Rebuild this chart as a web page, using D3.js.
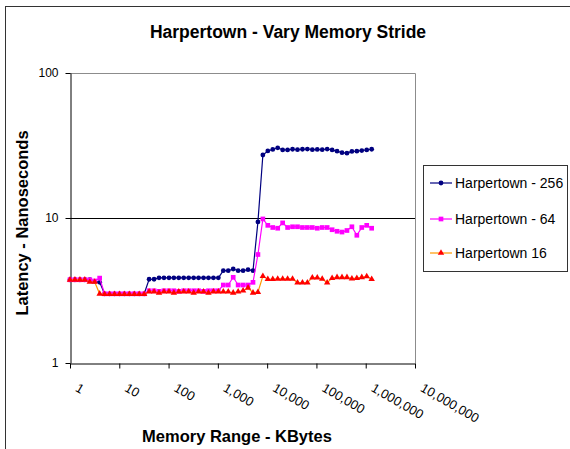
<!DOCTYPE html>
<html>
<head>
<meta charset="utf-8">
<script src="https://cdn.jsdelivr.net/npm/d3@7"></script>
<style>
body { margin: 0; background: #fff; }
text { font-family: "Liberation Sans", Arial, sans-serif; }
</style>
</head>
<body>
<script>
const w = 570;
const h = 449;

// memory range in KBytes (x) and latency in ns for each stride
const sizeKB = [1, 1.26, 1.59, 2, 2.52, 3.17, 4, 5.04, 6.35, 8, 10.1, 12.7, 16, 20.2, 25.4, 32,
  40.3, 50.8, 64, 80.6, 102, 128, 161, 203, 256, 323, 406, 512, 645, 813, 1024, 1290, 1625,
  2048, 2580, 3251, 4096, 5161, 6502, 8192, 10321, 13004, 16384, 20643, 26008, 32768, 41285,
  52016, 65536, 82570, 104032, 131072, 165140, 208064, 262144, 330281, 416128, 524288,
  660561, 832255, 1048576, 1321123];

const lat256 = [3.75, 3.75, 3.75, 3.75, 3.75, 3.65, 3.6,
  3.0, 3.0, 3.0, 3.0, 3.0, 3.0, 3.0, 3.0, 3.0,
  3.78, 3.78, 3.87, 3.87, 3.87, 3.87, 3.87, 3.87, 3.87, 3.87, 3.87, 3.87, 3.87, 3.87, 3.87,
  4.33, 4.33, 4.45, 4.33, 4.33, 4.4, 4.33,
  9.4,
  27.2, 29.0, 29.7, 30.5, 29.5, 29.5, 29.8, 29.6, 29.8, 29.9, 29.6, 29.7, 29.6, 29.9, 29.5,
  28.9, 28.2, 28.0, 28.8, 28.9, 29.2, 29.5, 29.8];

const lat64 = [3.75, 3.75, 3.75, 3.75, 3.75, 3.68, 3.85,
  3.0, 3.0, 3.0, 3.0, 3.0, 3.0, 3.0, 3.0, 3.0,
  3.15, 3.15, 3.12, 3.15, 3.15, 3.15, 3.12, 3.15, 3.15, 3.15, 3.15, 3.12, 3.15, 3.15, 3.15,
  3.45, 3.45, 3.9, 3.45, 3.45, 3.45, 3.6,
  5.6,
  9.85, 8.9, 8.6, 8.5, 9.25, 8.6, 8.7, 8.7, 8.6, 8.6, 8.6, 8.5, 8.6, 8.6, 8.3,
  8.1, 8.0, 8.2, 8.7, 7.6, 8.6, 8.9, 8.5];

const lat16 = [3.75, 3.75, 3.75, 3.75, 3.62, 3.62, 3.0,
  2.98, 2.98, 2.98, 2.98, 2.98, 2.98, 2.98, 2.98, 2.98,
  3.1, 3.1, 3.05, 3.1, 3.1, 3.05, 3.1, 3.1, 3.1, 3.05, 3.1, 3.1, 3.05, 3.1, 3.1,
  3.1, 3.1, 3.05, 3.1, 3.15, 3.3, 3.05,
  3.08,
  3.97, 3.78, 3.78, 3.8, 3.8, 3.8, 3.8, 3.58, 3.58, 3.58, 3.88, 3.88, 3.8, 3.58, 3.85,
  3.9, 3.9, 3.9, 3.82, 3.85, 3.9, 3.95, 3.78];

const seriesNames = ["Harpertown - 256", "Harpertown - 64", "Harpertown 16"];
const xTicks = [1, 10, 100, 1000, 10000, 100000, 1000000, 10000000];
const yTicks = [1, 10, 100];

const series = [
  {name: seriesNames[0], values: lat256, line: "#000080", fill: "#000080", symbol: d3.symbolCircle, size: 18},
  {name: seriesNames[1], values: lat64, line: "#ff00ff", fill: "#ff00ff", symbol: d3.symbolSquare, size: 22},
  {name: seriesNames[2], values: lat16, line: "#ff9900", fill: "#ff0000", symbol: d3.symbolTriangle, size: 18}
];

const plotLeft = 70, plotRight = 415, plotTop = 73, plotBottom = 363;

const xScale = d3.scaleLog()
                 .domain([1, 1e7])
                 .range([plotLeft, plotRight]);

const yScale = d3.scaleLog()
                 .domain([1, 100])
                 .range([plotBottom, plotTop]);

const svg = d3.select("body")
              .append("svg")
              .attr("width", w)
              .attr("height", h);

// chart area border (runs off the right and bottom of the picture)
svg.append("rect")
   .attr("x", 5.5).attr("y", 6.5)
   .attr("width", 620).attr("height", 500)
   .attr("fill", "#fff")
   .attr("stroke", "#333");

// plot area frame: gray top and right, gridline at 10
svg.append("path")
   .attr("d", `M${plotLeft},${plotTop + 0.5}H${plotRight + 0.5}V${plotBottom}`)
   .attr("fill", "none")
   .attr("stroke", "#8c8c8c");

svg.append("line")
   .attr("x1", plotLeft).attr("x2", plotRight)
   .attr("y1", Math.round(yScale(10)) + 0.5).attr("y2", Math.round(yScale(10)) + 0.5)
   .attr("stroke", "#000");

const xAxis = d3.axisBottom(xScale)
                .tickValues(xTicks)
                .tickFormat(d3.format(","))
                .tickSize(5)
                .tickSizeOuter(0);

const yAxis = d3.axisLeft(yScale)
                .tickValues(yTicks)
                .tickFormat(d3.format(","))
                .tickSize(5)
                .tickPadding(7)
                .tickSizeOuter(0);

const gx = svg.append("g")
   .attr("id", "x-axis")
   .attr("transform", "translate(0," + (plotBottom + 0.5) + ")")
   .call(xAxis);

gx.selectAll("text")
  .attr("font-size", 13)
  .attr("font-family", null)
  .attr("text-anchor", "start")
  .attr("x", 0).attr("y", 0).attr("dy", null)
  .attr("transform", "translate(4,27) rotate(30)");

const gy = svg.append("g")
   .attr("id", "y-axis")
   .attr("transform", "translate(" + (plotLeft + 0.5) + ",0)")
   .call(yAxis);

gy.selectAll("text").attr("font-size", 12).attr("font-family", null);
svg.selectAll(".domain, .tick line").attr("stroke", "#000");

// series lines and markers
const line = d3.line()
               .x((d, i) => xScale(sizeKB[i]))
               .y(d => yScale(d));

series.forEach(s => {
  svg.append("path")
     .datum(s.values)
     .attr("d", line)
     .attr("fill", "none")
     .attr("stroke", s.line)
     .attr("stroke-width", 1.2);

  svg.append("g")
     .selectAll("path")
     .data(s.values)
     .enter()
     .append("path")
     .attr("d", d3.symbol().type(s.symbol).size(s.size))
     .attr("transform", (d, i) => "translate(" + xScale(sizeKB[i]) + "," + yScale(d) + ")")
     .attr("fill", s.fill);
});

// legend
const legend = svg.append("g");
legend.append("rect")
      .attr("x", 423.5).attr("y", 165.5)
      .attr("width", 144).attr("height", 106)
      .attr("fill", "#fff")
      .attr("stroke", "#333");

const legendY = [183, 219, 253];
series.forEach((s, i) => {
  legend.append("line")
        .attr("x1", 430).attr("x2", 452)
        .attr("y1", legendY[i]).attr("y2", legendY[i])
        .attr("stroke", s.line)
        .attr("stroke-width", 1.2);
  legend.append("path")
        .attr("d", d3.symbol().type(s.symbol).size(s.size))
        .attr("transform", "translate(441," + legendY[i] + ")")
        .attr("fill", s.fill);
  legend.append("text")
        .attr("x", 455).attr("y", legendY[i])
        .attr("dy", "0.35em")
        .attr("font-size", 14)
        .text(s.name);
});

// titles
svg.append("text")
   .attr("x", 288).attr("y", 38)
   .attr("text-anchor", "middle")
   .attr("font-size", 17.5)
   .attr("font-weight", "bold")
   .text("Harpertown - Vary Memory Stride");

svg.append("text")
   .attr("x", 237).attr("y", 442)
   .attr("text-anchor", "middle")
   .attr("font-size", 16.5)
   .attr("font-weight", "bold")
   .text("Memory Range - KBytes");

svg.append("text")
   .attr("transform", "translate(28,223) rotate(-90)")
   .attr("text-anchor", "middle")
   .attr("font-size", 16.5)
   .attr("font-weight", "bold")
   .text("Latency - Nanoseconds");
</script>
</body>
</html>
